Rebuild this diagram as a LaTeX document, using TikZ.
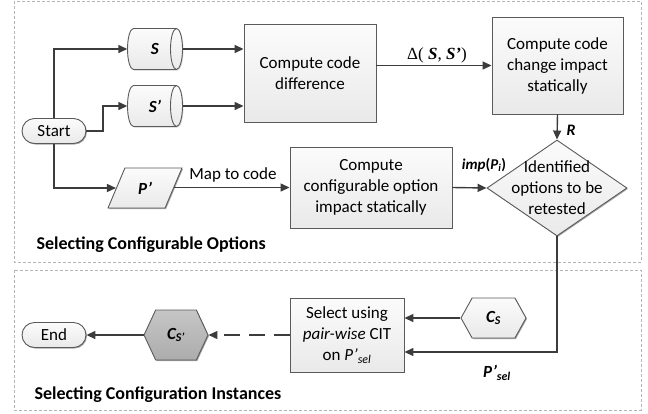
\documentclass[tikz,border=0pt]{standalone}
\usepackage{fontspec}
\setmainfont{Carlito}
\newfontfamily\timesfont{Liberation Serif}
\usetikzlibrary{shapes.geometric,shapes.misc,shapes.symbols,arrows.meta,shadows}
\definecolor{lineclr}{HTML}{3C3C3C}
\definecolor{boxline}{HTML}{5A5A5A}
\definecolor{secline}{HTML}{B4B4B4}
\begin{document}
\begin{tikzpicture}[x=1pt,y=-1pt,
  every node/.style={font=\fontsize{17}{21}\selectfont, text=black},
  shade/.style={top color=gray!3, bottom color=gray!17},
  box/.style={draw=boxline, line width=0.9pt, shade, align=center, inner sep=0pt,
     drop shadow={shadow xshift=1pt, shadow yshift=-1pt, fill=gray!70, opacity=1}},
  term/.style={box, rounded rectangle, minimum width=64, minimum height=25},
  storebox/.style={inner sep=0pt, minimum width=55, minimum height=41},
  storeline/.style={draw=boxline, line width=0.9pt},
  hexa/.style={box, signal, signal to=east and west},
  conn/.style={draw=lineclr, line width=1.4pt, -{Triangle[length=9pt,width=8pt]}},
  section/.style={draw=secline, line width=0.7pt, dash pattern=on 3pt off 2pt},
  title/.style={font=\bfseries\fontsize{18}{21}\selectfont, anchor=west},
  lbl/.style={font=\bfseries\itshape\fontsize{16}{19}\selectfont}
]
\useasboundingbox (0,0) rectangle (648,413);
% sections
\path[section] (14,1) rectangle (641,262);
\path[section] (14,270) rectangle (641,410);
\node[title] (t1) at (33,245) {Selecting Configurable Options};
\node[title] (t2) at (31,395) {Selecting Configuration Instances};

% cylinders (drawn around named nodes)
\foreach \n/\yy in {s/49, s2/106}{
  \coordinate (c\n) at (155,\yy);
  \path[storeline, shade, drop shadow={shadow xshift=1pt, shadow yshift=-1pt, fill=gray!70}]
    ([xshift=-21.5pt,yshift=20.5pt]c\n) -- ([xshift=21.5pt,yshift=20.5pt]c\n)
    arc[start angle=90, end angle=-90, x radius=6pt, y radius=20.5pt]
    -- ([xshift=-21.5pt,yshift=-20.5pt]c\n)
    arc[start angle=270, end angle=90, x radius=6pt, y radius=20.5pt] -- cycle;
  \draw[storeline] ([xshift=21.5pt,yshift=20.5pt]c\n)
    arc[start angle=90, end angle=270, x radius=6pt, y radius=20.5pt];
}
\node[storebox] (s) at (cs) {\textbf{\textit{S}}};
\node[storebox] (s2) at (cs2) {\textbf{\textit{S’}}};

% nodes
\node[term] (start) at (54,131) {Start};
\node[term] (end) at (54,335) {End};
\node[box, trapezium, trapezium left angle=64.6, trapezium right angle=115.4, trapezium stretches=true, minimum width=74, minimum height=40] (p) at (145,188) {\textbf{\textit{P’}}};
\node[box, minimum width=132, minimum height=98] (diff) at (310,73) {Compute code\\difference};
\node[box, minimum width=131, minimum height=97] (imp) at (557.5,65.5) {Compute code\\change impact\\statically};
\node[box, minimum width=162, minimum height=81] (conf) at (371,187.5) {Compute\\configurable option\\impact statically};
\node[box, diamond, minimum width=140, minimum height=96,
      label={[align=center]center:Identified\\options to be\\retested}] (dia) at (557,188) {};
\node[box, minimum width=114, minimum height=74] (sel) at (347,335) {Select using\\\textit{pair-wise} CIT\\on \textit{P’\textsubscript{sel}}};
\node[hexa, signal pointer angle=122, minimum width=65, minimum height=40] (cx) at (493.5,318) {\textbf{\textit{C\textsubscript{S}}}};
\node[hexa, signal pointer angle=130, minimum width=64, minimum height=50, top color=gray!45, bottom color=gray!65] (cx2) at (176,335) {\textbf{\textit{C\textsubscript{S’}}}};

% connectors
\coordinate (k1) at (103,131);
\draw[conn] (start.north) |- (s.west);
\draw[conn] (start.east) -- (k1) |- (s2.west);
\draw[conn] (start.south) |- (p.west);
\draw[conn] (s.east) -- (s.east -| diff.west);
\draw[conn] (s2.east) -- (s2.east -| diff.west);
\draw[conn] (diff.east |- imp.west) -- (imp.west);
\node[font=\timesfont\fontsize{17}{20}\selectfont] (dl) at (437,55) {Δ( \textbf{\textit{S}}, \textbf{\textit{S’}})};
\draw[conn] (imp.south) -- (dia.north);
\node[lbl] (rl) at (571,130) {R};
\draw[conn] (p.east |- conf.west) -- (conf.west);
\node (ml) at (233,175) {Map to code};
\draw[conn] (conf.east) -- (dia.west);
\node[font=\bfseries\fontsize{15}{18}\selectfont] (il) at (484,165) {\textit{imp}(\textit{P}\textsubscript{\textit{i}})};
\coordinate (k2) at (557,352);
\draw[conn] (dia.south) -- (k2) -- (sel.east |- k2);
\node[lbl, font=\bfseries\itshape\fontsize{17}{20}\selectfont] (pl) at (497,373) {P’\textsubscript{sel}};
\draw[conn] (cx.west) -- (sel.east |- cx.west);
\draw[conn, dash pattern=on 16pt off 9pt] (sel.west) -- (cx2.east);
\draw[conn] (cx2.west) -- (end.east);
\end{tikzpicture}
\end{document}
